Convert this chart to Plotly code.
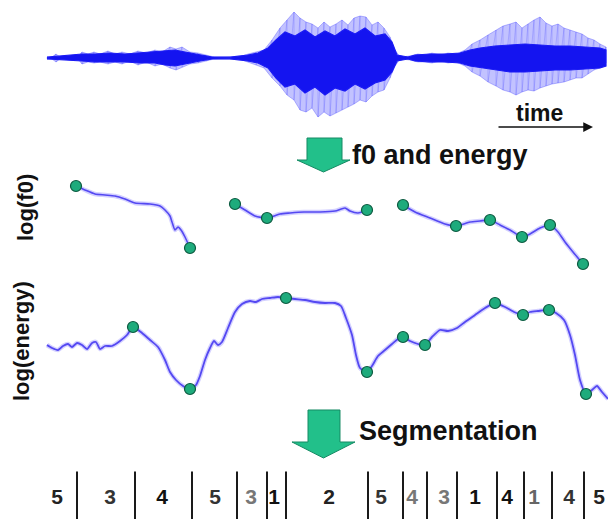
import plotly.graph_objects as go

W, H = 608, 519

# ---------------- data ----------------
# speech waveform envelopes (time in ms, amplitude in arbitrary units)
wave_t = [94, 104, 112, 120, 140, 156, 164, 176, 188, 200, 216, 230, 244, 260, 276, 292,
          310, 324, 340, 352, 364, 380, 396, 412, 428, 460, 484, 496, 512, 528, 544, 560,
          574, 588, 600, 612, 624, 636, 648, 660, 672, 684, 696, 708, 720, 732, 744, 756,
          768, 780, 790, 800, 820, 836, 850, 864, 880, 896, 912, 930, 944, 960, 976, 992,
          1006, 1020, 1032, 1044, 1056, 1068, 1080, 1092, 1104, 1116, 1128, 1140, 1152,
          1164, 1176, 1188, 1200, 1212]
wave_hi = [1, 1, 4, 1, 1, 1, 6, 4, 6, 4, 7, 4, 6, 4, 7, 5, 8, 6, 11, 9, 11, 6, 5, 3, 1, 1,
           2, 4, 6, 8, 18, 30, 38, 46, 40, 36, 34, 30, 36, 31, 34, 38, 33, 40, 42, 41, 33,
           36, 30, 21, 8, 1, 2, 4, 3, 5, 3, 5, 4, 8, 14, 18, 23, 28, 32, 34, 36, 30, 34, 38,
           41, 35, 32, 34, 30, 28, 26, 24, 20, 18, 14, 11]
wave_lo = [-1, -1, -4, -1, -1, -1, -6, -4, -5, -4, -6, -4, -6, -3, -7, -4, -8, -6, -10, -12,
           -9, -6, -5, -3, -1, -1, -2, -4, -7, -10, -20, -28, -37, -42, -52, -54, -50, -59,
           -54, -58, -55, -52, -49, -46, -42, -44, -38, -34, -32, -20, -8, -1, -2, -4, -4,
           -5, -3, -5, -4, -8, -14, -18, -24, -28, -32, -34, -37, -34, -32, -33, -30, -28,
           -26, -25, -24, -22, -20, -20, -16, -12, -10, -5]

core_t = [94, 164, 190, 220, 250, 280, 310, 330, 350, 370, 400, 424, 460, 496, 516, 536,
          552, 570, 590, 610, 630, 650, 670, 690, 710, 730, 750, 770, 784, 794, 816, 830,
          860, 890, 920, 940, 960, 990, 1020, 1050, 1080, 1110, 1140, 1170, 1200, 1212]
core_hi = [0.8, 4, 4, 5, 4, 5, 6, 7, 8, 6, 3, 1, 0.8, 3, 5, 10, 18, 26, 22, 28, 21, 27, 22,
           29, 24, 30, 22, 24, 16, 3, 1, 3, 4, 4, 5, 8, 10, 12, 13, 14, 13, 12, 12, 11, 10, 8]
core_lo = [-0.8, -3, -4, -4, -4, -5, -5, -7, -8, -6, -3, -1, -0.8, -3, -5, -10, -20, -29,
           -26, -35, -29, -37, -30, -33, -26, -31, -25, -22, -14, -3, -1, -3, -4, -4, -5,
           -8, -10, -12, -14, -14, -13, -12, -12, -11, -10, -8]

# log(f0) contour, three voiced stretches
f0_t = [
    [152, 170, 190, 210, 230, 250, 270, 300, 320, 330, 340, 344, 350, 356, 362, 370, 380],
    [470, 490, 510, 534, 560, 580, 608, 640, 670, 690, 700, 716, 734],
    [806, 830, 860, 890, 912, 940, 960, 980, 1000, 1020, 1044, 1060, 1080, 1100, 1116,
     1130, 1146, 1166],
]
f0_v = [
    [5.44, 5.40, 5.36, 5.35, 5.34, 5.31, 5.27, 5.26, 5.24, 5.20, 5.14, 5.08, 5.00, 5.03,
     5.00, 4.93, 4.82],
    [5.26, 5.20, 5.14, 5.12, 5.16, 5.17, 5.18, 5.18, 5.19, 5.22, 5.19, 5.17, 5.20],
    [5.25, 5.18, 5.12, 5.06, 5.04, 5.08, 5.09, 5.10, 5.05, 5.00, 4.93, 4.96, 5.02, 5.05,
     4.98, 4.88, 4.78, 4.66],
]
f0_key_t = [152, 380, 470, 534, 734, 806, 912, 980, 1044, 1100, 1166]
f0_key_v = [5.44, 4.82, 5.26, 5.12, 5.20, 5.25, 5.04, 5.10, 4.93, 5.05, 4.66]

# log(energy) contour in dB
en_t = [94, 104, 116, 126, 136, 144, 154, 164, 174, 184, 192, 200, 210, 224, 240, 254, 266,
        284, 300, 316, 330, 340, 352, 366, 380, 392, 400, 410, 420, 428, 436, 444, 456,
        470, 484, 500, 512, 524, 540, 556, 572, 590, 610, 630, 650, 670, 682, 692, 704,
        712, 720, 734, 744, 756, 770, 784, 796, 806, 820, 836, 850, 864, 880, 896, 914,
        930, 950, 970, 990, 1010, 1028, 1046, 1060, 1076, 1098, 1112, 1128, 1140, 1150,
        1160, 1172, 1184, 1194, 1204, 1216]
en_v = [52.5, 51, 50, 52, 53, 51.5, 53.5, 52.5, 50.5, 53.5, 54, 50.5, 52, 52, 54.5, 57.5,
        61.5, 58.5, 55, 51.5, 45, 39, 35, 32, 30.5, 32.5, 37, 45, 51, 54.5, 52.5, 54, 61,
        69, 73, 74.5, 74, 75.5, 76, 76.5, 76, 75.5, 75, 74, 73.5, 73.5, 72, 66, 57.5, 47.5,
        41, 39, 42, 47, 50, 53, 55.5, 56.5, 54.5, 53, 52.5, 56.5, 60, 59.5, 61, 64, 67.5,
        71, 73.5, 71.5, 69, 67.5, 69, 69.5, 70, 68.5, 65, 57.5, 47.5, 35, 28, 30, 32, 29,
        25.5]
en_key_t = [266, 380, 572, 734, 806, 850, 990, 1046, 1098, 1172]
en_key_v = [61.5, 30.5, 76, 39, 56.5, 52.5, 73.5, 67.5, 70, 28]

# segmentation result
seg_bounds = [154, 270, 384, 474, 534, 572, 736, 806, 854, 914, 994, 1048, 1104, 1168]
seg_label_t = [114, 220, 324, 430, 502, 548, 658, 762, 824, 888, 950, 1014, 1068, 1138, 1198]
seg_labels = ["5", "3", "4", "5", "3", "1", "2", "5", "4", "3", "1", "4", "1", "4", "5"]

# ---------------- styling ----------------
LINE = "#5448f2"
HALO = "rgba(110,100,255,0.30)"
DOT = "#1eab7c"
DOT_EDGE = "#0d5a40"
ARROW_FILL = "#22c08a"
ARROW_EDGE = "#168a64"
TEXT = "#111111"
FONT = "Liberation Sans, Arial, sans-serif"
seg_label_colors = ["#222", "#333", "#111", "#333", "#777", "#111", "#222", "#333",
                    "#777", "#777", "#111", "#111", "#666", "#333", "#222"]


def band(top_px, bottom_px):
    """Vertical domain (paper units) of a horizontal band given in pixels from the top."""
    return [1 - bottom_px / H, 1 - top_px / H]


def px(x):
    return x / W


def py(y):
    return 1 - y / H


fig = go.Figure()

# waveform: light outer envelope, vertical strokes inside it, dense core
fig.add_trace(go.Scatter(
    x=wave_t + wave_t[::-1], y=wave_hi + wave_lo[::-1], fill="toself",
    fillcolor="rgba(80,80,255,0.35)", line=dict(color="rgba(70,70,255,0.45)", width=0.8),
    mode="lines", xaxis="x", yaxis="y", hoverinfo="skip"))
sx, sy = [], []
for t, hi, lo in zip(wave_t, wave_hi, wave_lo):
    sx += [t, t]
    sy += [hi, lo]
fig.add_trace(go.Scatter(
    x=sx, y=sy, mode="lines", line=dict(color="rgba(40,40,255,0.2)", width=1),
    xaxis="x", yaxis="y", hoverinfo="skip"))
fig.add_trace(go.Scatter(
    x=core_t + core_t[::-1], y=core_hi + core_lo[::-1], fill="toself",
    fillcolor="#1414f0", line=dict(color="#1a1af5", width=1.2),
    mode="lines", xaxis="x", yaxis="y", hoverinfo="skip"))

# log(f0) stretches
for t, v in zip(f0_t, f0_v):
    fig.add_trace(go.Scatter(x=t, y=v, mode="lines", line=dict(color=HALO, width=4.5,
                  shape="spline", smoothing=0.6), xaxis="x", yaxis="y2", hoverinfo="skip"))
    fig.add_trace(go.Scatter(x=t, y=v, mode="lines", line=dict(color=LINE, width=1.6,
                  shape="spline", smoothing=0.6), xaxis="x", yaxis="y2", hoverinfo="skip"))
fig.add_trace(go.Scatter(x=f0_key_t, y=f0_key_v, mode="markers",
              marker=dict(size=11, color=DOT, line=dict(color=DOT_EDGE, width=1.2)),
              xaxis="x", yaxis="y2"))

# log(energy)
fig.add_trace(go.Scatter(x=en_t, y=en_v, mode="lines", line=dict(color=HALO, width=4.5,
              shape="spline", smoothing=0.6), xaxis="x", yaxis="y3", hoverinfo="skip"))
fig.add_trace(go.Scatter(x=en_t, y=en_v, mode="lines", line=dict(color=LINE, width=1.8,
              shape="spline", smoothing=0.6), xaxis="x", yaxis="y3", hoverinfo="skip"))
fig.add_trace(go.Scatter(x=en_key_t, y=en_key_v, mode="markers",
              marker=dict(size=11, color=DOT, line=dict(color=DOT_EDGE, width=1.2)),
              xaxis="x", yaxis="y3"))

# segmentation boundaries and class labels
bx, by = [], []
for b in seg_bounds:
    bx += [b, b, None]
    by += [0, 0.97, None]
fig.add_trace(go.Scatter(x=bx, y=by, mode="lines", line=dict(color="#1a1a1a", width=2),
              xaxis="x", yaxis="y4", hoverinfo="skip"))
fig.add_trace(go.Scatter(x=seg_label_t, y=[0.42] * len(seg_labels), mode="text",
              text=seg_labels,
              textfont=dict(family=FONT, size=21, color=seg_label_colors, weight="bold"),
              xaxis="x", yaxis="y4", hoverinfo="skip"))


# block arrows between stages
def block_arrow(x0, x1, top, neck, hx0, hx1, tip_y):
    xm = (hx0 + hx1) / 2
    pts = [(x0, top), (x1, top), (x1, neck), (hx1, neck), (xm, tip_y), (hx0, neck), (x0, neck)]
    path = "M " + " L ".join(f"{px(a):.5f},{py(b):.5f}" for a, b in pts) + " Z"
    return dict(type="path", xref="paper", yref="paper", path=path,
                fillcolor=ARROW_FILL, line=dict(color=ARROW_EDGE, width=1))


shapes = [block_arrow(307, 342, 138, 160, 297, 350, 172),
          block_arrow(308, 340, 410, 442, 292, 355, 458)]


def label(text, x, y, size, xanchor="center", angle=0):
    return dict(text=text, x=px(x), y=py(y), xref="paper", yref="paper",
                xanchor=xanchor, yanchor="middle", textangle=angle, showarrow=False,
                font=dict(family=FONT, size=size, color=TEXT, weight="bold"))


annotations = [
    label("time", 539, 113, 23),
    dict(text="", x=px(593), y=py(127), ax=-96, ay=0, xref="paper", yref="paper",
         showarrow=True, arrowhead=2, arrowsize=1.3, arrowwidth=1.5, arrowcolor="#111"),
    label("f0 and energy", 350, 155, 27, xanchor="left"),
    label("Segmentation", 357, 431, 27, xanchor="left"),
    label("log(f0)", 25, 208, 22, angle=-90),
    label("log(energy)", 21, 341, 22, angle=-90),
]

hidden = dict(visible=False, fixedrange=True)
fig.update_layout(
    width=W, height=H, margin=dict(l=0, r=0, t=0, b=0),
    paper_bgcolor="white", plot_bgcolor="white", showlegend=False,
    xaxis=dict(range=[0, 1216], domain=[0, 1], **hidden),
    yaxis=dict(range=[-62, 58], domain=band(0, 120), anchor="x", **hidden),
    yaxis2=dict(range=[4.55, 5.55], domain=band(175, 275), anchor="x", **hidden),
    yaxis3=dict(range=[22.5, 82.5], domain=band(285, 405), anchor="x", **hidden),
    yaxis4=dict(range=[0, 1], domain=band(470, 519), anchor="x", **hidden),
    shapes=shapes, annotations=annotations,
)

fig.write_html("out.html")
